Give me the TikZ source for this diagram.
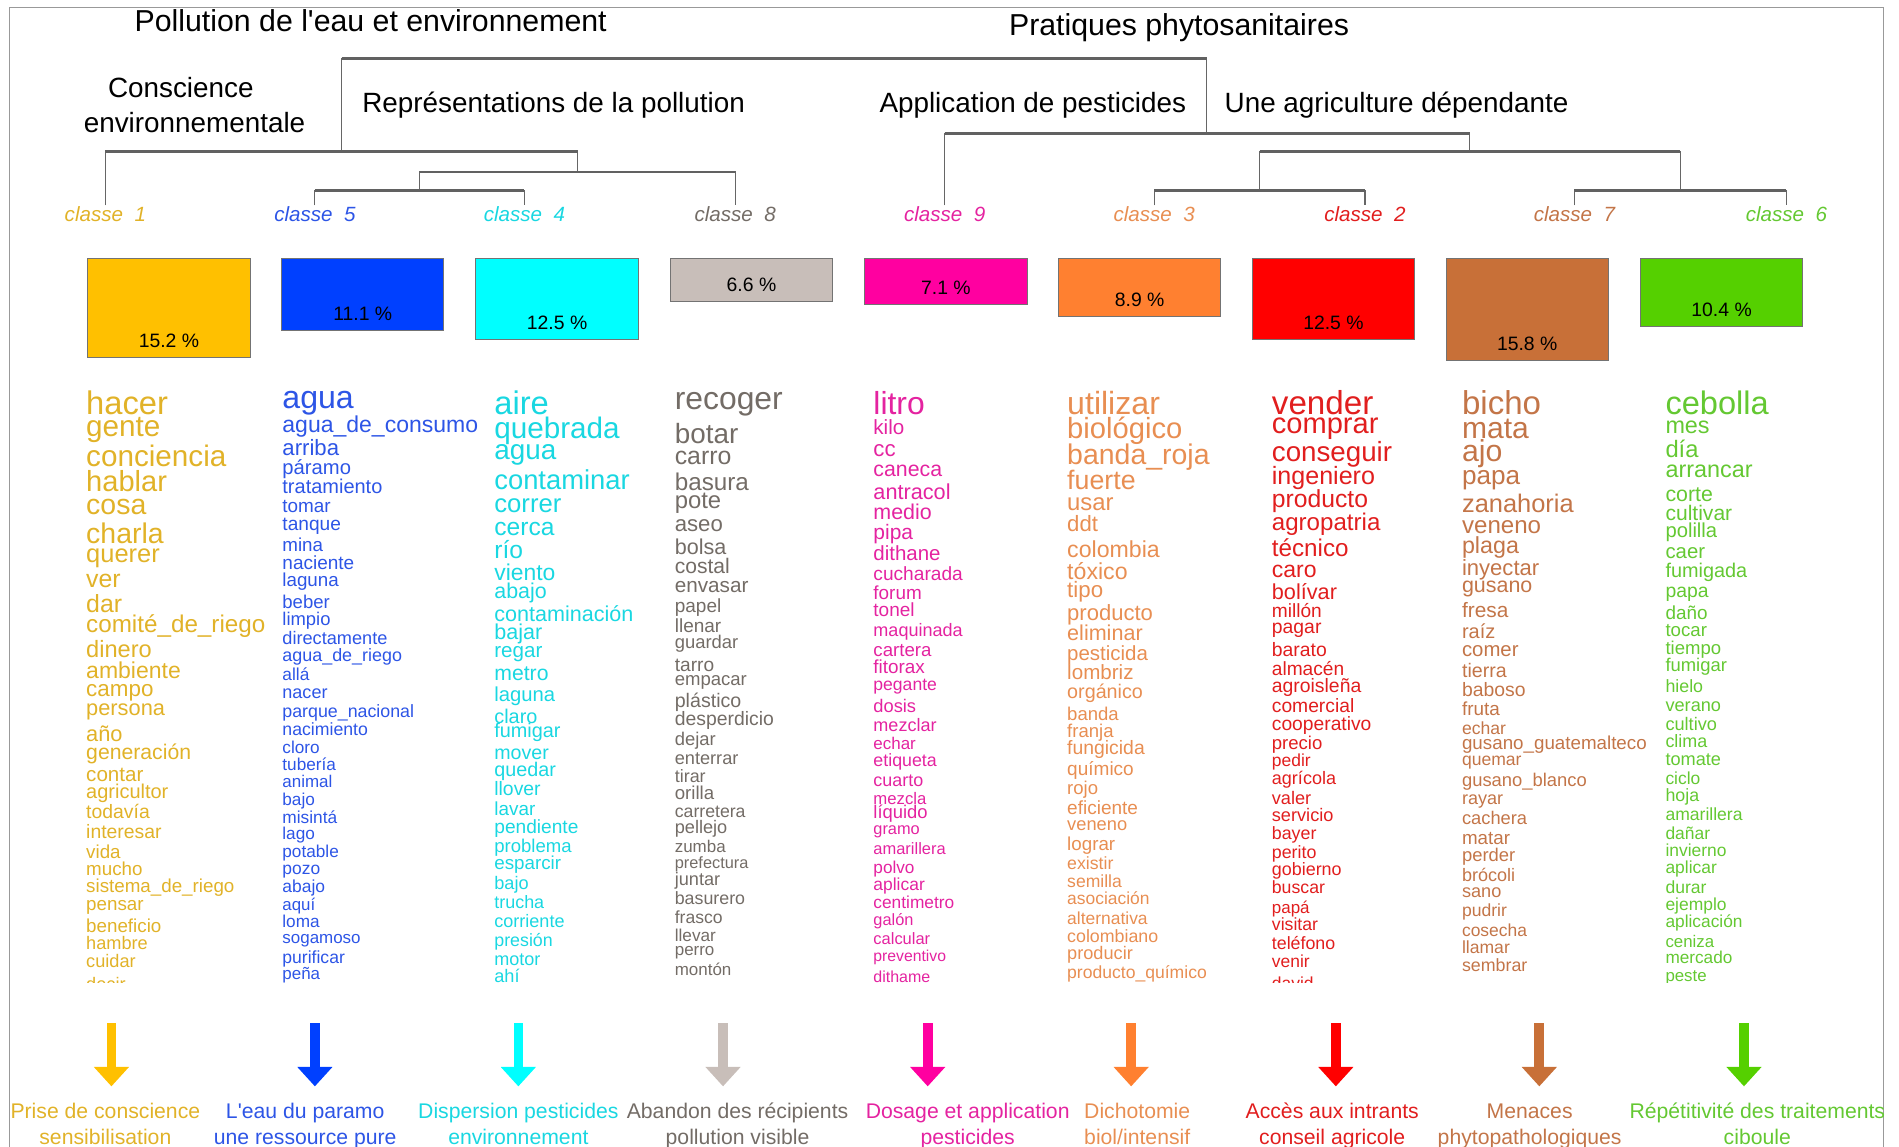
\documentclass[tikz,border=0pt]{standalone}
\usepackage{fontspec}
\setmainfont{Liberation Sans}
\usetikzlibrary{arrows.meta, calc}
% box colours
\definecolor{cYellow}{RGB}{255,192,0}
\definecolor{cBlue}{RGB}{0,64,255}
\definecolor{cCyan}{RGB}{0,255,255}
\definecolor{cGrey}{RGB}{200,190,185}
\definecolor{cPink}{RGB}{255,0,160}
\definecolor{cOrange}{RGB}{255,128,48}
\definecolor{cRed}{RGB}{255,0,0}
\definecolor{cBrown}{RGB}{200,112,56}
\definecolor{cGreen}{RGB}{85,208,0}
% text colours
\definecolor{tYellow}{RGB}{225,178,40}
\definecolor{tBlue}{RGB}{45,85,230}
\definecolor{tCyan}{RGB}{25,215,225}
\definecolor{tGrey}{RGB}{115,108,102}
\definecolor{tPink}{RGB}{228,35,160}
\definecolor{tOrange}{RGB}{232,142,82}
\definecolor{tRed}{RGB}{225,30,30}
\definecolor{tBrown}{RGB}{195,117,72}
\definecolor{tGreen}{RGB}{100,200,50}
\tikzset{
	frame/.style={draw=black!40, line width=1.2pt},
	vline/.style={draw=black!60, line width=1pt},
	hbar/.style={draw=black!62, line width=2.4pt},
	title/.style={anchor=mid west, inner sep=0pt, yshift=-4pt, font=\fontsize{25}{25}\selectfont},
	subtitle/.style={anchor=mid west, inner sep=0pt, yshift=-4pt, font=\fontsize{23}{23}\selectfont},
	cls/.style={inner sep=1pt, font=\fontsize{17}{17}\selectfont\itshape},
	pbox/.style={rectangle, anchor=north, minimum width=134pt, draw=black!55, line width=0.8pt, inner sep=0pt},
	pct/.style={inner sep=0pt, font=\fontsize{16}{16}\selectfont},
	word/.style={anchor=mid west, inner sep=0pt, yshift=-3.5pt},
	downarrow/.style={line width=8pt, -{Triangle[width=28pt, length=16pt]}},
	caption/.style={anchor=mid, inner sep=0pt, yshift=-4pt, font=\fontsize{17.5}{17.5}\selectfont},
}
% one column of words: id, x, colour, list word/y/size
\newcommand{\classwords}[4]{%
	\foreach \w/\y/\s [count=\i] in {#4}
		\node[word, text=#3, font=\fontsize{\s}{\s}\selectfont] (w#1-\i) at (#2,\y) {\w};
}

\begin{document}
\begin{tikzpicture}[x=1pt, y=-1pt]
	\useasboundingbox (0,0) rectangle (1568,947);
	\draw[frame] (8,960) -- (8,6) -- (1555,6) -- (1555,960);

	% titles
	\node[title] (ttl1) at (111,19.5) {Pollution de l\textquotesingle eau et environnement};
	\node[title] (ttl2) at (833,23) {Pratiques phytosanitaires};
	\node[subtitle] (st1a) at (89,74) {Conscience};
	\node[subtitle] (st1b) at (69,103) {environnementale};
	\node[subtitle] (st2) at (299,86) {Représentations de la pollution};
	\node[subtitle] (st3) at (726,86) {Application de pesticides};
	\node[subtitle] (st4) at (1011,86) {Une agriculture dépendante};

	% class labels
	\node[cls, text=tYellow] (k1) at (87,177) {classe~~1};
	\node[cls, text=tBlue]   (k5) at (260,177) {classe~~5};
	\node[cls, text=tCyan]   (k4) at (433,177) {classe~~4};
	\node[cls, text=tGrey]   (k8) at (607,177) {classe~~8};
	\node[cls, text=tPink]   (k9) at (780,177) {classe~~9};
	\node[cls, text=tOrange] (k3) at (953,177) {classe~~3};
	\node[cls, text=tRed]    (k2) at (1127,177) {classe~~2};
	\node[cls, text=tBrown]  (k7) at (1300,177) {classe~~7};
	\node[cls, text=tGreen]  (k6) at (1475,177) {classe~~6};

	% dendrogram
	\coordinate (j54) at (346.5,157);
	\coordinate (j548) at (477,142);
	\coordinate (j1548) at (282,125);
	\coordinate (j32) at (1040,157);
	\coordinate (j76) at (1387.5,157);
	\coordinate (j3276) at (1213.5,125);
	\coordinate (j93276) at (996.5,110);
	\coordinate (jtop) at (639.25,48);
	\draw[vline] (k5.north) |- (j54) -| (k4.north);
	\draw[vline] (j54) |- (j548) -| (k8.north);
	\draw[vline] (k1.north) |- (j1548) -| (j548);
	\draw[vline] (k3.north) |- (j32) -| (k2.north);
	\draw[vline] (k7.north) |- (j76) -| (k6.north);
	\draw[vline] (j32) |- (j3276) -| (j76);
	\draw[vline] (k9.north) |- (j93276) -| (j3276);
	\draw[vline] (j1548) |- (jtop) -| (j93276);
	\draw[hbar] (k5.north |- j54) -- (k4.north |- j54);
	\draw[hbar] (j54 |- j548) -- (k8.north |- j548);
	\draw[hbar] (k1.north |- j1548) -- (j548 |- j1548);
	\draw[hbar] (k3.north |- j32) -- (k2.north |- j32);
	\draw[hbar] (k7.north |- j76) -- (k6.north |- j76);
	\draw[hbar] (j32 |- j3276) -- (j76 |- j3276);
	\draw[hbar] (k9.north |- j93276) -- (j3276 |- j93276);
	\draw[hbar] (j1548 |- jtop) -- (j93276 |- jtop);

	% class sizes
	\foreach \x/\h/\c/\p [count=\i] in {139.5/81.5/cYellow/15.2, 299.5/59.5/cBlue/11.1, 460/67/cCyan/12.5, 620.5/35.6/cGrey/6.6, 781/38/cPink/7.1, 941/48/cOrange/8.9, 1101/67/cRed/12.5, 1261/84/cBrown/15.8, 1421.5/56/cGreen/10.4}{
		\node[pbox, fill=\c, minimum height=\h pt] (p\i) at (\x,213) {};
		\node[pct] (q\i) at ([yshift=14pt]p\i.south) {\p\ \%};
	}

	% word lists
	\begin{scope}
		\clip (0,300) rectangle (1568,811);
		\classwords{1}{71}{tYellow}{hacer/336/27, gente/354/24.5, conciencia/379/24.5, hablar/400/24, cosa/419/23.5, charla/443/23.5, querer/458/21, ver/479/20.5, dar/500/20.5, comité\_de\_riego/516/20, dinero/537/19.5, ambiente/554/19, campo/569/18.5, persona/585/18, año/606/18, generación/621/17.5, contar/639/17, agricultor/653/16.5, todavía/670/16, interesar/686/16, vida/703/15.5, mucho/717/15.5, sistema\_de\_riego/731/15.5, pensar/746/15.5, beneficio/764/15.5, hambre/778/15, cuidar/793/15, decir/812/15}
		\classwords{5}{233}{tBlue}{agua/331/26.5, agua\_de\_consumo/351/19, arriba/370/18.3, páramo/386/16.7, tratamiento/401/16.5, tomar/417/15.6, tanque/432/15.8, mina/449/15.5, naciente/464/15.7, laguna/478/15.5, beber/496/15.3, limpio/510/15.2, directamente/526/15, agua\_de\_riego/540/14.8, allá/556/14.3, nacer/571/14.9, parque\_nacional/586/14.7, nacimiento/601/14.6, cloro/616/14.2, tubería/630/14.2, animal/644/14, bajo/659/14.2, misintá/674/14.3, lago/687/14.2, potable/702/14.2, pozo/716/14.4, abajo/731/14.4, aquí/746/13.9, loma/760/14.2, sogamoso/773/14, purificar/789/14.5, peña/803/14}
		\classwords{4}{408}{tCyan}{aire/336/27, quebrada/356/24.5, agua/373/23, contaminar/398/22.6, correr/417/21.2, cerca/436/20.3, río/455/20.3, viento/473/18.9, abajo/488/17.7, contaminación/507/17.8, bajar/522/17.8, regar/537/17, metro/556/17.5, laguna/573/16.7, claro/591/16.4, fumigar/603/16.4, mover/621/16.2, quedar/635/16.3, llover/651/16, lavar/667/15.6, pendiente/682/15.8, problema/698/15.3, esparcir/712/15.5, bajo/728/15, trucha/744/14.8, corriente/760/14.9, presión/775/14.7, motor/791/14.9, ahí/805/15}
		\classwords{8}{557}{tGrey}{recoger/332/26.3, botar/360/23, carro/377/20.5, basura/399/20, pote/414/19.7, aseo/433/18.3, bolsa/452/17.8, costal/467/17.4, envasar/483/17.1, papel/500/15.7, llenar/516/15.7, guardar/529/15.2, tarro/548/15.8, empacar/560/15.3, plástico/578/16.2, desperdicio/593/16, dejar/609/15.2, enterrar/625/15, tirar/640/14.8, orilla/654/15.4, carretera/669/14.6, pellejo/682/15, zumba/698/14, prefectura/711/13.5, juntar/725/15, basurero/741/14.7, frasco/756/14.5, llevar/771/14.2, perro/783/14, montón/799/14}
		\classwords{9}{721}{tPink}{litro/336/26.3, kilo/353/17, cc/371/18.4, caneca/387/17.6, antracol/406/17.9, medio/423/17.7, pipa/439/17.3, dithane/457/16.9, cucharada/473/15.8, forum/489/15.6, tonel/503/15.7, maquinada/519/14.9, cartera/536/15.4, fitorax/550/15.6, pegante/564/14.5, dosis/582/15.1, mezclar/598/14.9, echar/613/14, etiqueta/627/14.7, cuarto/643/14.8, mezcla/658/13.8, líquido/670/15.2, gramo/683/13.5, amarillera/699/13.6, polvo/715/14.2, aplicar/729/14.4, centimetro/744/14.3, galón/758/13.5, calcular/774/13.6, preventivo/788/13, dithame/805/13.2}
		\classwords{3}{881}{tOrange}{utilizar/336/26.5, biológico/356/24.1, banda\_roja/377/23.5, fuerte/398/22.1, usar/415/19.7, ddt/433/18.3, colombia/454/19.1, tóxico/472/19.1, tipo/487/18.4, producto/506/18.2, eliminar/523/17.8, pesticida/539/16.9, lombriz/555/17, orgánico/571/16.3, banda/589/15.3, franja/603/15.3, fungicida/617/16, químico/634/15.7, rojo/650/15.3, eficiente/666/15.7, veneno/680/15.1, lograr/696/15.5, existir/712/14.6, semilla/727/14.5, asociación/741/14.4, alternativa/757/14.4, colombiano/772/14.7, producir/786/15, producto\_químico/802/14.5}
		\classwords{2}{1050}{tRed}{vender/336/27.4, comprar/352/24, conseguir/375/22.9, ingeniero/394/20.7, producto/413/20.4, agropatria/432/19.9, técnico/453/20, caro/471/19, bolívar/489/17.9, millón/504/15.8, pagar/517/16, barato/536/16, almacén/552/15.8, agroisleña/566/16, comercial/582/15.9, cooperativo/597/15.9, precio/613/15.3, pedir/627/14.4, agrícola/642/14.9, valer/658/15, servicio/672/15, bayer/687/14.7, perito/703/14.7, gobierno/717/14.8, buscar/732/14.6, papá/748/14, visitar/762/14.6, teléfono/778/14.7, venir/793/14.4, david/811/14.4}
		\classwords{7}{1207}{tBrown}{bicho/336/27.3, mata/356/24.8, ajo/375/25, papa/394/21.6, zanahoria/417/21, veneno/434/19.9, plaga/451/19.2, inyectar/469/18.2, gusano/483/17.7, fresa/504/17.2, raíz/521/16.5, comer/536/16.8, tierra/553/16.2, baboso/569/16, fruta/585/15.6, echar/600/14.5, gusano\_guatemalteco/613/15.5, quemar/626/14.5, gusano\_blanco/643/15.2, rayar/658/14.9, cachera/675/15.1, matar/691/15.5, perder/705/15.2, brócoli/722/14.9, sano/735/15, pudrir/751/14.5, cosecha/767/14.4, llamar/781/14.5, sembrar/796/14.7}
		\classwords{6}{1375}{tGreen}{cebolla/336/26.9, mes/352/19.3, día/372/19.6, arrancar/388/19.3, corte/408/17.6, cultivar/424/17.4, polilla/438/16.7, caer/455/16.8, fumigada/471/16.4, papa/487/16, daño/505/15.6, tocar/519/15.4, tiempo/534/15.3, fumigar/548/15.2, hielo/566/14.7, verano/581/15, cultivo/597/15, clima/611/14.8, tomate/626/15, ciclo/642/14.4, hoja/656/14.7, amarillera/671/14.5, dañar/687/14.4, invierno/701/14.4, aplicar/715/14.4, durar/732/14.5, ejemplo/746/14.4, aplicación/760/14.3, ceniza/776/13.9, mercado/789/14.2, peste/804/13.9}
	\end{scope}

	% arrows to the themes
	\foreach \x/\c [count=\i] in {92/cYellow, 260/cBlue, 428/cCyan, 597/cGrey, 766/cPink, 934/cOrange, 1103/cRed, 1271/cBrown, 1440/cGreen}{
		\coordinate (s\i) at (\x,845);
		\coordinate (e\i) at (\x,897);
		\draw[downarrow, draw=\c, fill=\c] (s\i) -- (e\i);
	}
	\foreach \x/\a/\b/\c [count=\i] in {87/Prise de conscience/sensibilisation/tYellow, 252/L\textquotesingle eau du paramo/une ressource pure/tBlue, 428/Dispersion pesticides/environnement/tCyan, 609/Abandon des récipients/pollution visible/tGrey, 799/Dosage et application/pesticides/tPink, 939/Dichotomie/{biol/intensif}/tOrange, 1100/Accès aux intrants/conseil agricole/tRed, 1263/Menaces/phytopathologiques/tBrown, 1451/Répétitivité des traitements/ciboule/tGreen}{
		\node[caption, text=\c] (t\i) at (\x,917) {\a};
		\node[caption, text=\c] (u\i) at (\x,938) {\b};
	}
\end{tikzpicture}
\end{document}
